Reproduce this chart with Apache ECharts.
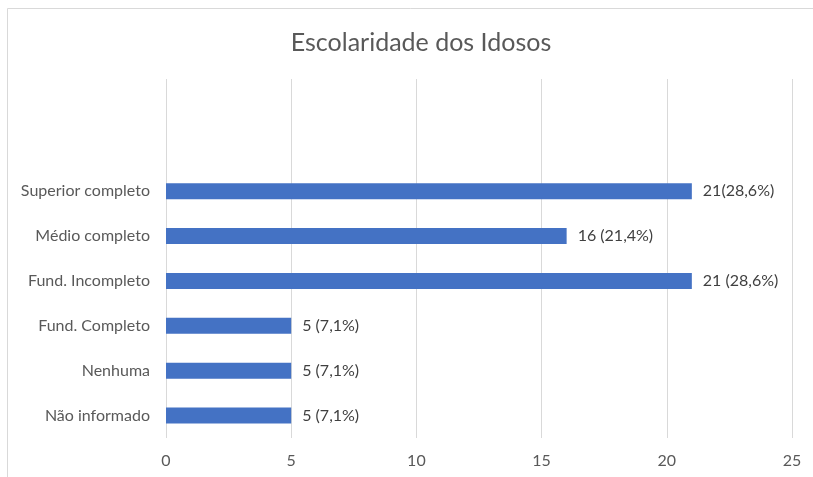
<!DOCTYPE html>
<html>
<head>
<meta charset="utf-8">
<script src="https://cdn.jsdelivr.net/npm/echarts@6/dist/echarts.min.js"></script>
<style>
  html, body { margin: 0; padding: 0; background: #fff; }
  #main { width: 813px; height: 477px; }
</style>
</head>
<body>
<div id="main"></div>
<script>
// categorias (de baixo para cima) - as duas ultimas ficam vazias como no original
var categorias = ['Não informado', 'Nenhuma', 'Fund. Completo', 'Fund. Incompleto', 'Médio completo', 'Superior completo', '', ''];
var valores = [5, 5, 5, 21, 16, 21, '-', '-'];
var rotulos = ['5 (7,1%)', '5 (7,1%)', '5 (7,1%)', '21 (28,6%)', '16 (21,4%)', '21(28,6%)', '', ''];
var ticksX = [0, 5, 10, 15, 20, 25];

var myChart = echarts.init(document.getElementById('main'));

var fonte = 'Lato, "Open Sans", sans-serif';

var option = {
    backgroundColor: '#fff',
    animation: false,
    title: {
        text: 'Escolaridade dos Idosos',
        left: 416,
        textAlign: 'center',
        top: 25,
        textStyle: {
            color: '#595959',
            fontSize: 25,
            fontWeight: 'normal',
            fontFamily: fonte
        }
    },
    graphic: [{
        type: 'rect',
        shape: { x: 7.5, y: 8.5, width: 820, height: 480 },
        style: { fill: 'none', stroke: '#d9d9d9', lineWidth: 1 },
        silent: true
    }],
    grid: {
        left: 166,
        right: 21,
        top: 79,
        bottom: 39
    },
    xAxis: {
        type: 'value',
        min: ticksX[0],
        max: ticksX[ticksX.length - 1],
        interval: 5,
        axisLine: { show: false },
        axisTick: { show: false },
        axisLabel: {
            color: '#595959',
            fontSize: 16,
            fontFamily: fonte,
            margin: 15
        },
        splitLine: {
            lineStyle: { color: '#d9d9d9', width: 1 }
        }
    },
    yAxis: {
        type: 'category',
        data: categorias,
        axisLine: { show: false },
        axisTick: { show: false },
        axisLabel: {
            color: '#595959',
            fontSize: 16,
            fontFamily: fonte,
            margin: 16
        },
        splitLine: { show: false }
    },
    series: [{
        type: 'bar',
        data: valores,
        barWidth: 16,
        itemStyle: { color: '#4472C4' },
        label: {
            show: true,
            position: 'right',
            distance: 11,
            color: '#404040',
            fontSize: 16,
            fontFamily: fonte,
            formatter: function (p) { return rotulos[p.dataIndex]; }
        }
    }]
};

myChart.setOption(option);
</script>
</body>
</html>
